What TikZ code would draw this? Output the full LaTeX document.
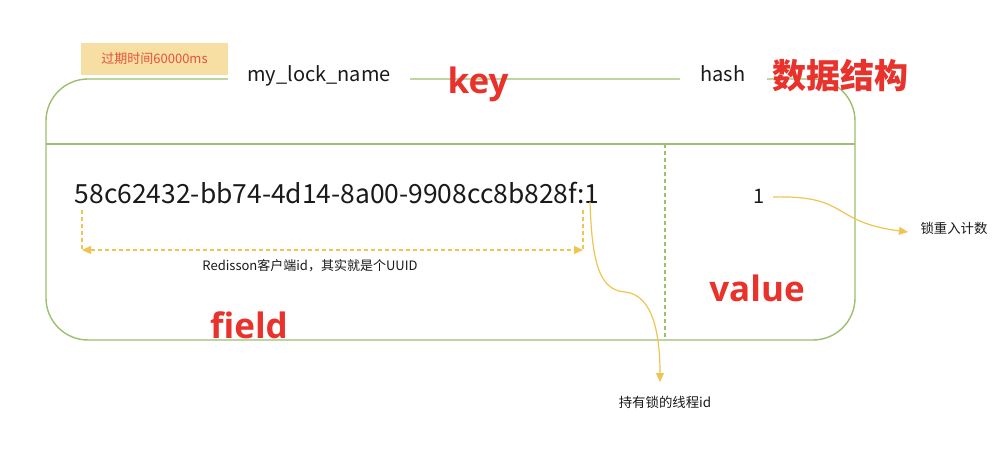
\documentclass[tikz,border=0pt]{standalone}
\usepackage{fontspec}
\setmainfont{Liberation Sans}
\newfontfamily\cjk{Noto Sans CJK SC}
\newfontfamily\bigf{Open Sans}
\usetikzlibrary{arrows.meta}
\definecolor{gline}{HTML}{9DC06E}
\definecolor{yel}{HTML}{F1C452}
\definecolor{redt}{HTML}{E8322B}
\definecolor{yboxfill}{HTML}{F7DEA3}
\definecolor{yboxtext}{HTML}{E5533A}
\definecolor{txt}{HTML}{1A1A1A}
\tikzset{
  gl/.style={draw=gline, line width=1.4pt},
  yl/.style={draw=yel, line width=1.2pt},
  tip/.style={-{Triangle[length=9pt,width=8pt]}},
  lbl/.style={inner sep=0pt, text=txt, font=\cjk\fontsize{20}{22}\selectfont},
  small/.style={inner sep=0pt, text=txt, font=\cjk\fontsize{13.4}{15}\selectfont},
  bigred/.style={inner sep=0pt, text=redt, font=\bigf\bfseries\fontsize{35}{40}\selectfont},
  bigcjk/.style={inner sep=0pt, text=redt, font=\cjk\bfseries\fontsize{34}{38}\selectfont},
  expbox/.style={fill=yboxfill, minimum width=147pt, minimum height=32pt, inner sep=0pt, text=yboxtext, font=\cjk\fontsize{13}{15}\selectfont},
}
\begin{document}
\begin{tikzpicture}[x=1pt,y=-1pt]
\useasboundingbox[fill=white] (0,0) rectangle (1004,462);
% main rounded box
\draw[gl, rounded corners=42pt] (46,79) rectangle (855,340);
\coordinate (divL) at (46,144);
\coordinate (divR) at (855,144);
\draw[gl] (divL) -- (divR);
\coordinate (vtop) at (665,144);
\coordinate (vbot) at (665,340);
\draw[draw=gline, line width=1.2pt, dash pattern=on 4pt off 3pt] (vtop) -- (vbot);
% top labels
\node[expbox] (exp) at (154.5,59) {过期时间60000ms};
\node[lbl, fill=white, minimum width=182pt, minimum height=20pt] (keyname) at (319,76) {my\_lock\_name};
\node[bigred] (key) at (478,84) {key};
\node[lbl, fill=white, minimum width=87pt, minimum height=20pt] (hash) at (723,74) {hash};
\node[bigcjk] (ds) at (840,76) {数据结构};
% field content
\node[lbl, font=\cjk\fontsize{26.4}{30}\selectfont] (uuid) at (337,193) {58c62432-bb74-4d14-8a00-9908cc8b828f:1};
\coordinate (dl) at (82,210);
\coordinate (dr) at (583,210);
\coordinate (dlb) at (82,250);
\coordinate (drb) at (583,250);
\draw[yl, dash pattern=on 4pt off 3pt] (dl) -- (dlb);
\draw[yl, dash pattern=on 4pt off 3pt] (dr) -- (drb);
\draw[yl, dash pattern=on 4pt off 3pt, {Triangle[length=9pt,width=8pt]}-{Triangle[length=9pt,width=8pt]}] (dlb) -- (drb);
\node[small, font=\cjk\fontsize{13}{15}\selectfont] (cap) at (310,266) {Redisson客户端id，其实就是个UUID};
\node[bigred] (field) at (249,325) {field};
% value content
\node[lbl] (one) at (759,196) {1};
\node[bigred] (value) at (757,288) {value};
\node[small] (cnt) at (954,228) {锁重入计数};
\node[small] (tid) at (665,402) {持有锁的线程id};
\coordinate (c1) at (773,197);
\coordinate (c2) at (908,232);
\draw[yl, tip] (c1) .. controls (850,195) and (830,222) .. (c2);
\coordinate (t1) at (590,202);
\coordinate (t2) at (660,382);
\draw[yl, tip] (t1) .. controls (592,265) and (600,290) .. (625,292) .. controls (655,295) and (660,340) .. (t2);
\end{tikzpicture}
\end{document}
